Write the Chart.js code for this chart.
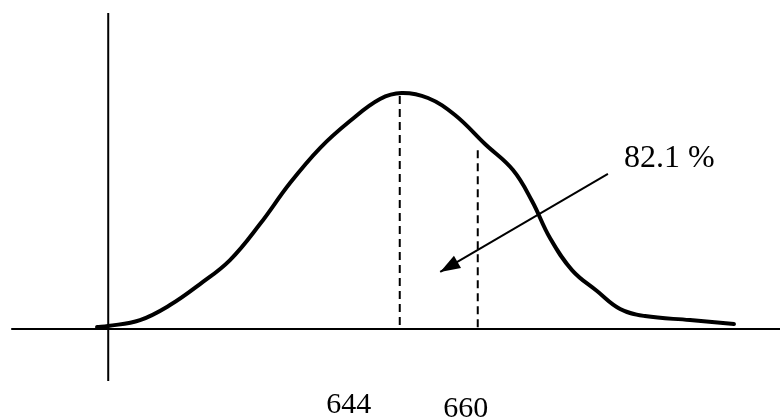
<!DOCTYPE html>
<html>
<head>
<meta charset="utf-8">
<style>
  html, body { margin: 0; padding: 0; background: #ffffff; }
  #wrap { width: 780px; height: 419px; }
  canvas { display: block; }
</style>
<script src="https://cdn.jsdelivr.net/npm/chart.js@4/dist/chart.umd.min.js"></script>
</head>
<body>
<div id="wrap"><canvas id="c" width="780" height="419"></canvas></div>
<script>
// Distribution of scores (relative density, peak = 100)
const scores  = [581.90, 584.15, 590.72, 596.87, 603.03, 609.18, 615.33, 621.49, 627.64, 633.79,
                 639.95, 644.40, 649.79, 655.33, 661.49, 667.23, 671.13, 674.82, 679.33, 684.46,
                 689.20, 694.30, 703.54, 712.56];
const density = [0.85, 1.27, 3.81, 10.17, 19.07, 29.24, 44.49, 61.86, 76.69, 88.14,
                 97.46, 100.0, 97.88, 90.68, 78.39, 67.37, 54.24, 38.56, 25.00, 16.10,
                 8.50, 5.51, 3.81, 2.12];

// Marked scores: mean and cut-off, with the height of each guide line
const markScores  = [644, 660];
const markHeights = [98.7, 75.8];
const markLabels  = ['644', '660'];

// Share of the distribution and the arrow pointing at it
const shareLabel = '82.1 %';
const arrowFrom = { x: 686.7, y: 65.7 };
const arrowTo   = { x: 652.3, y: 24.2 };

// Axis extents
const xAxisRange = [564.3, 722];
const yAxisAt = 584.2;
const yAxisRange = [-22, 133.9];

const INK = '#000000';

const datasets = [
  {
    label: 'x axis',
    data: [{ x: xAxisRange[0], y: 0 }, { x: xAxisRange[1], y: 0 }],
    borderColor: INK, borderWidth: 2, pointRadius: 0, showLine: true
  },
  {
    label: 'y axis',
    data: [{ x: yAxisAt, y: yAxisRange[0] }, { x: yAxisAt, y: yAxisRange[1] }],
    borderColor: INK, borderWidth: 2, pointRadius: 0, showLine: true
  },
  {
    label: 'density',
    data: scores.map((s, i) => ({ x: s, y: density[i] })),
    borderColor: INK, borderWidth: 4, pointRadius: 0, showLine: true,
    tension: 0.4, borderCapStyle: 'round', borderJoinStyle: 'round'
  }
];

markScores.forEach((s, i) => {
  datasets.push({
    label: 'mark ' + markLabels[i],
    data: [{ x: s, y: markHeights[i] }, { x: s, y: 0 }],
    borderColor: INK, borderWidth: 2, borderDash: [8, 5], pointRadius: 0, showLine: true
  });
});

datasets.push({
  label: 'arrow',
  data: [arrowFrom, arrowTo],
  borderColor: INK, borderWidth: 2, pointRadius: 0, showLine: true
});

// Arrowhead and text labels placed through the chart scales
const annotations = {
  id: 'annotations',
  afterDatasetsDraw(chart) {
    const { ctx, scales: { x, y } } = chart;
    ctx.save();

    // arrowhead
    const x0 = x.getPixelForValue(arrowFrom.x), y0 = y.getPixelForValue(arrowFrom.y);
    const x1 = x.getPixelForValue(arrowTo.x),   y1 = y.getPixelForValue(arrowTo.y);
    const ang = Math.atan2(y1 - y0, x1 - x0);
    const len = 20, half = 7;
    ctx.fillStyle = INK;
    ctx.beginPath();
    ctx.moveTo(x1, y1);
    ctx.lineTo(x1 - len * Math.cos(ang) + half * Math.sin(ang), y1 - len * Math.sin(ang) - half * Math.cos(ang));
    ctx.lineTo(x1 - len * Math.cos(ang) - half * Math.sin(ang), y1 - len * Math.sin(ang) + half * Math.cos(ang));
    ctx.closePath();
    ctx.fill();

    // share label
    ctx.font = '32px "Liberation Serif", "Times New Roman", serif';
    ctx.textAlign = 'left';
    ctx.textBaseline = 'alphabetic';
    ctx.fillText(shareLabel, x.getPixelForValue(690.0), y.getPixelForValue(68.6));

    // score labels under the axis
    ctx.font = '30px "Liberation Serif", "Times New Roman", serif';
    ctx.textAlign = 'center';
    const nudge = [-51, -12];
    const drop = [84, 88];
    const base = y.getPixelForValue(0);
    markScores.forEach((s, i) => {
      ctx.fillText(markLabels[i], x.getPixelForValue(s) + nudge[i], base + drop[i]);
    });
    ctx.restore();
  }
};

new Chart(document.getElementById('c'), {
  type: 'scatter',
  data: { datasets },
  options: {
    responsive: false,
    devicePixelRatio: 1,
    animation: false,
    layout: { padding: 0 },
    plugins: { legend: { display: false }, tooltip: { enabled: false } },
    scales: {
      x: { type: 'linear', min: 562, max: 722, display: false },
      y: { type: 'linear', min: -38.1, max: 139.4, display: false }
    }
  },
  plugins: [annotations]
});
</script>
</body>
</html>
